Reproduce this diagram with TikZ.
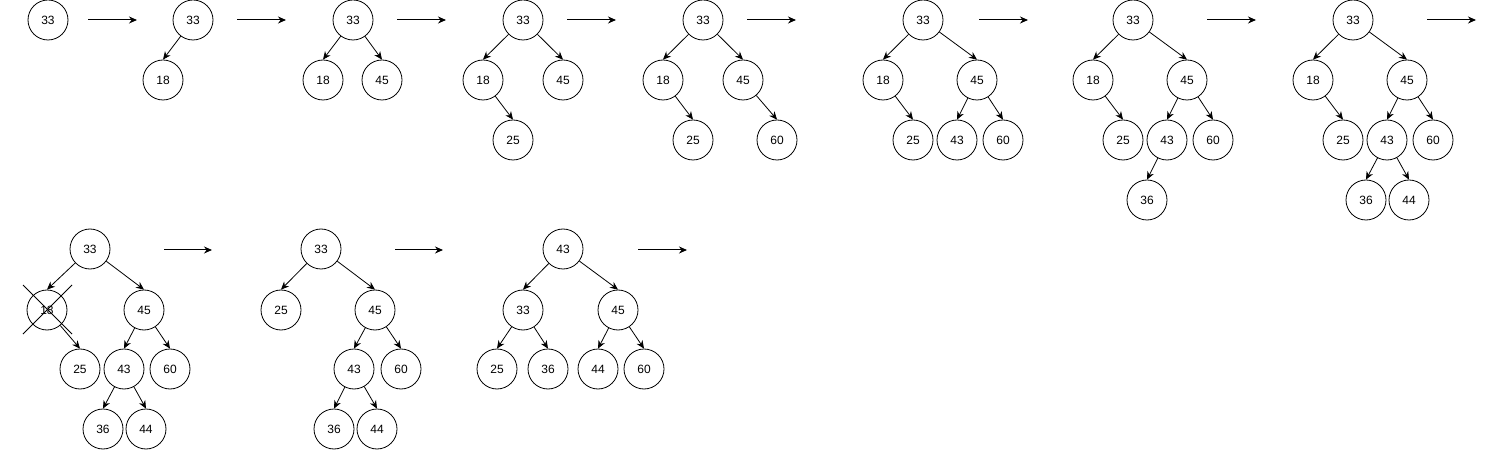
\documentclass[tikz,border=0pt]{standalone}
\usepackage{fontspec}
\setmainfont{Liberation Sans}
\usetikzlibrary{arrows.meta}
\tikzset{
  nd/.style = {circle, draw, line width=0.8pt, minimum size=40pt, inner sep=0pt,
               font=\fontsize{12}{14}\selectfont},
  lnk/.style = {line width=0.8pt, -{Stealth[length=8pt,width=7pt]}},
  nxt/.style = {line width=1pt, -{Stealth[length=8pt,width=7pt]}}
}
\begin{document}
\begin{tikzpicture}[x=1pt,y=-1pt]
\useasboundingbox (0,0) rectangle (1488,454);

% passo 1
\node [nd] at (48,20) (A33) {33};

% passo 2
\node [nd] at (193,20) (B33) {33};
\node [nd] at (163,80) (B18) {18};
\draw [lnk] (B33) -- (B18.north);

% passo 3
\node [nd] at (353,20) (C33) {33};
\node [nd] at (323,80) (C18) {18};
\node [nd] at (382,80) (C45) {45};
\draw [lnk] (C33) -- (C18.north);
\draw [lnk] (C33) -- (C45.north);

% passo 4
\node [nd] at (523,20) (D33) {33};
\node [nd] at (483,80) (D18) {18};
\node [nd] at (563,80) (D45) {45};
\node [nd] at (513,140) (D25) {25};
\draw [lnk] (D33) -- (D18.north);
\draw [lnk] (D33) -- (D45.north);
\draw [lnk] (D18) -- (D25.north);

% passo 5
\node [nd] at (703,20) (E33) {33};
\node [nd] at (663,80) (E18) {18};
\node [nd] at (743,80) (E45) {45};
\node [nd] at (693,140) (E25) {25};
\node [nd] at (777,140) (E60) {60};
\draw [lnk] (E33) -- (E18.north);
\draw [lnk] (E33) -- (E45.north);
\draw [lnk] (E18) -- (E25.north);
\draw [lnk] (E45) -- (E60.north);

% passo 6
\node [nd] at (923,20) (F33) {33};
\node [nd] at (883,80) (F18) {18};
\node [nd] at (977,80) (F45) {45};
\node [nd] at (913,140) (F25) {25};
\node [nd] at (957,140) (F43) {43};
\node [nd] at (1003,140) (F60) {60};
\draw [lnk] (F33) -- (F18.north);
\draw [lnk] (F33) -- (F45.north);
\draw [lnk] (F18) -- (F25.north);
\draw [lnk] (F45) -- (F43.north);
\draw [lnk] (F45) -- (F60.north);

% passo 7
\node [nd] at (1133,20) (G33) {33};
\node [nd] at (1093,80) (G18) {18};
\node [nd] at (1187,80) (G45) {45};
\node [nd] at (1123,140) (G25) {25};
\node [nd] at (1167,140) (G43) {43};
\node [nd] at (1213,140) (G60) {60};
\node [nd] at (1147,200) (G36) {36};
\draw [lnk] (G33) -- (G18.north);
\draw [lnk] (G33) -- (G45.north);
\draw [lnk] (G18) -- (G25.north);
\draw [lnk] (G45) -- (G43.north);
\draw [lnk] (G45) -- (G60.north);
\draw [lnk] (G43) -- (G36.north);

% passo 8
\node [nd] at (1353,20) (H33) {33};
\node [nd] at (1313,80) (H18) {18};
\node [nd] at (1407,80) (H45) {45};
\node [nd] at (1343,140) (H25) {25};
\node [nd] at (1387,140) (H43) {43};
\node [nd] at (1433,140) (H60) {60};
\node [nd] at (1366,200) (H36) {36};
\node [nd] at (1409,200) (H44) {44};
\draw [lnk] (H33) -- (H18.north);
\draw [lnk] (H33) -- (H45.north);
\draw [lnk] (H18) -- (H25.north);
\draw [lnk] (H45) -- (H43.north);
\draw [lnk] (H45) -- (H60.north);
\draw [lnk] (H43) -- (H36.north);
\draw [lnk] (H43) -- (H44.north);

% passo 9 (remocao do 18)
\node [nd] at (90,249) (I33) {33};
\node [nd] at (47,310) (I18) {18};
\node [nd] at (144,310) (I45) {45};
\node [nd] at (80,369) (I25) {25};
\node [nd] at (124,369) (I43) {43};
\node [nd] at (170,369) (I60) {60};
\node [nd] at (103,429) (I36) {36};
\node [nd] at (146,429) (I44) {44};
\draw [lnk] (I33) -- (I18.north);
\draw [lnk] (I33) -- (I45.north);
\draw [lnk] (I18) -- (I25.north);
\draw [lnk] (I45) -- (I43.north);
\draw [lnk] (I45) -- (I60.north);
\draw [lnk] (I43) -- (I36.north);
\draw [lnk] (I43) -- (I44.north);
\draw [line width=0.8pt] (I18.center) ++(-24,-25) -- ++(49,49);
\draw [line width=0.8pt] (I18.center) ++(25,-25) -- ++(-49,49);

% passo 10
\node [nd] at (321,249) (J33) {33};
\node [nd] at (281,310) (J25) {25};
\node [nd] at (375,310) (J45) {45};
\node [nd] at (354,369) (J43) {43};
\node [nd] at (401,369) (J60) {60};
\node [nd] at (334,429) (J36) {36};
\node [nd] at (377,429) (J44) {44};
\draw [lnk] (J33) -- (J25.north);
\draw [lnk] (J33) -- (J45.north);
\draw [lnk] (J45) -- (J43.north);
\draw [lnk] (J45) -- (J60.north);
\draw [lnk] (J43) -- (J36.north);
\draw [lnk] (J43) -- (J44.north);

% passo 11
\node [nd] at (563,249) (K43) {43};
\node [nd] at (523,310) (K33) {33};
\node [nd] at (618,310) (K45) {45};
\node [nd] at (497,369) (K25) {25};
\node [nd] at (548,369) (K36) {36};
\node [nd] at (598,369) (K44) {44};
\node [nd] at (644,369) (K60) {60};
\draw [lnk] (K43) -- (K33.north);
\draw [lnk] (K43) -- (K45.north);
\draw [lnk] (K33) -- (K25.north);
\draw [lnk] (K33) -- (K36.north);
\draw [lnk] (K45) -- (K44.north);
\draw [lnk] (K45) -- (K60.north);

% setas entre os passos
\coordinate (s1) at (88,20);   \coordinate (e1) at (137,20);
\coordinate (s2) at (237,20);  \coordinate (e2) at (286,20);
\coordinate (s3) at (397,20);  \coordinate (e3) at (446,20);
\coordinate (s4) at (567,20);  \coordinate (e4) at (616,20);
\coordinate (s5) at (747,20);  \coordinate (e5) at (796,20);
\coordinate (s6) at (979,20);  \coordinate (e6) at (1028,20);
\coordinate (s7) at (1207,20); \coordinate (e7) at (1256,20);
\coordinate (s8) at (1427,20); \coordinate (e8) at (1476,20);
\coordinate (s9) at (164,250);  \coordinate (e9) at (212,250);
\coordinate (s10) at (395,250); \coordinate (e10) at (443,250);
\coordinate (s11) at (638,250); \coordinate (e11) at (687,250);
\draw [nxt] (s1) -- (e1);
\draw [nxt] (s2) -- (e2);
\draw [nxt] (s3) -- (e3);
\draw [nxt] (s4) -- (e4);
\draw [nxt] (s5) -- (e5);
\draw [nxt] (s6) -- (e6);
\draw [nxt] (s7) -- (e7);
\draw [nxt] (s8) -- (e8);
\draw [nxt] (s9) -- (e9);
\draw [nxt] (s10) -- (e10);
\draw [nxt] (s11) -- (e11);
\end{tikzpicture}
\end{document}
